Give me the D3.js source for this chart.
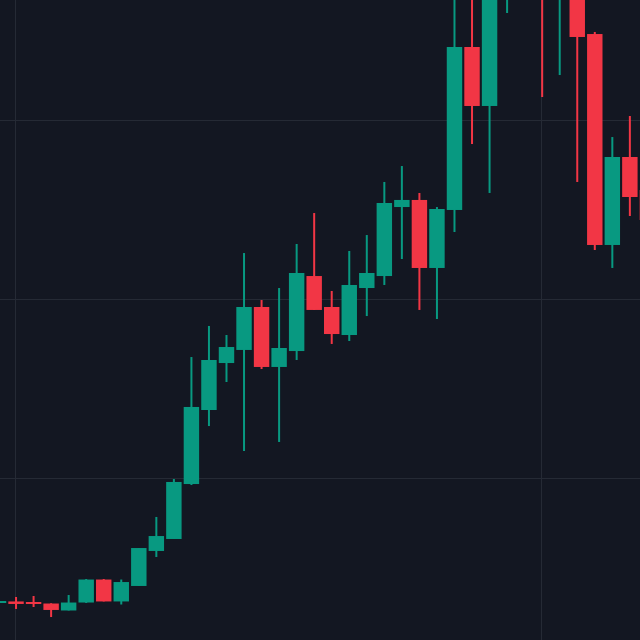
<!doctype html>
<html lang="en">
<head>
  <meta charset="utf-8">
  <title>Candles</title>
  <style>
html, body {
  margin: 0;
  padding: 0;
  background: #131722;
  overflow: hidden;
}
.grid line {
  stroke: #252a35;
  stroke-width: 1;
  shape-rendering: crispEdges;
}
  </style>
</head>
<body>
  <script src="https://d3js.org/d3.v7.min.js"></script>
  <script>
// candle index of the first value below (one bar sits half off the left edge)
var firstIndex = -1;

var opens  = [5.98, 6.15, 6.09, 5.92, 5.14, 6.03, 8.60, 6.15, 7.88, 11.79,
              13.13, 19.27, 27.54, 32.79, 34.25, 39.05, 32.35, 34.13, 42.51, 39.05,
              35.92, 41.17, 42.51, 50.22, 51.01, 43.41, 49.89, 68.10, 61.51, 76.70,
              86.50, 82.00, 75.00, 80.00, 69.55, 45.98, 55.81, 52.12];
var highs  = [6.31, 6.65, 6.76, 5.95, 6.87, 8.66, 8.66, 8.60, 12.12, 15.59,
              19.83, 33.46, 36.93, 35.92, 45.08, 39.83, 41.17, 46.09, 49.55, 40.84,
              45.31, 47.09, 53.02, 54.80, 51.79, 50.22, 75.59, 76.70, 80.06, 87.88,
              88.50, 84.00, 83.00, 82.00, 69.78, 58.04, 60.39, 53.50];
var lows   = [5.87, 5.31, 5.53, 4.41, 5.14, 5.98, 6.15, 5.81, 7.88, 11.12,
              13.13, 19.16, 25.75, 30.67, 22.96, 32.12, 23.97, 33.13, 38.72, 34.92,
              35.25, 38.04, 41.51, 44.41, 38.72, 37.71, 47.43, 57.26, 51.79, 71.90,
              76.00, 62.51, 64.97, 53.02, 45.42, 43.41, 49.22, 47.50];
var closes = [6.20, 5.87, 5.87, 5.20, 6.03, 8.60, 6.15, 8.32, 12.12, 13.46,
              19.50, 27.88, 33.13, 34.58, 39.05, 32.35, 34.47, 42.85, 38.72, 36.03,
              41.51, 42.85, 50.67, 51.01, 43.41, 50.00, 68.10, 61.51, 77.82, 85.64,
              80.50, 74.50, 81.00, 69.22, 45.98, 55.81, 51.34, 48.77];

// price levels and bar positions of the faint grid
var priceTicks = [20, 40, 60];
var timeTicks = [0, 30];

var upColor = "#089981",
    downColor = "#f23645";

var width = 640,
    height = 640;

var data = opens.map(function(o, i) {
  return {i: firstIndex + i, open: o, high: highs[i], low: lows[i], close: closes[i]};
});

// bar index -> x centre
var x = d3.scaleLinear()
    .domain([-1, 36])
    .range([-1.5, 647.4]);
// price -> y
var y = d3.scaleLinear()
    .domain([20, 60])
    .range([477.5, 119.5]);

var step = x(1) - x(0);
var bodyW = step * 0.88;

var svg = d3.select("body").append("svg")
    .attr("width", width)
    .attr("height", height)
    .style("display", "block");

svg.append("rect")
    .attr("width", width)
    .attr("height", height)
    .attr("fill", "#131722");

var grid = svg.append("g").attr("class", "grid");

grid.selectAll(".h")
    .data(priceTicks)
    .enter().append("line")
    .attr("class", "h")
    .attr("x1", 0)
    .attr("x2", width)
    .attr("y1", function(d) { return Math.round(y(d)) + 0.5; })
    .attr("y2", function(d) { return Math.round(y(d)) + 0.5; });

grid.selectAll(".v")
    .data(timeTicks)
    .enter().append("line")
    .attr("class", "v")
    .attr("y1", 0)
    .attr("y2", height)
    .attr("x1", function(d) { return Math.round(x(d)) - 0.5; })
    .attr("x2", function(d) { return Math.round(x(d)) - 0.5; });

function col(d) { return d.close >= d.open ? upColor : downColor; }

var candles = svg.selectAll(".candle")
    .data(data)
    .enter().append("g")
    .attr("class", "candle");

//wick first so the body sits on top of it
candles.append("rect")
    .attr("x", function(d) { return x(d.i) - 1; })
    .attr("width", 2)
    .attr("y", function(d) { return y(d.high); })
    .attr("height", function(d) { return y(d.low) - y(d.high); })
    .attr("fill", col);

candles.append("rect")
    .attr("x", function(d) { return x(d.i) - bodyW / 2; })
    .attr("width", bodyW)
    .attr("y", function(d) { return y(Math.max(d.open, d.close)); })
    .attr("height", function(d) { return Math.max(2, Math.abs(y(d.open) - y(d.close))); })
    .attr("fill", col);
  </script>
</body>
</html>
